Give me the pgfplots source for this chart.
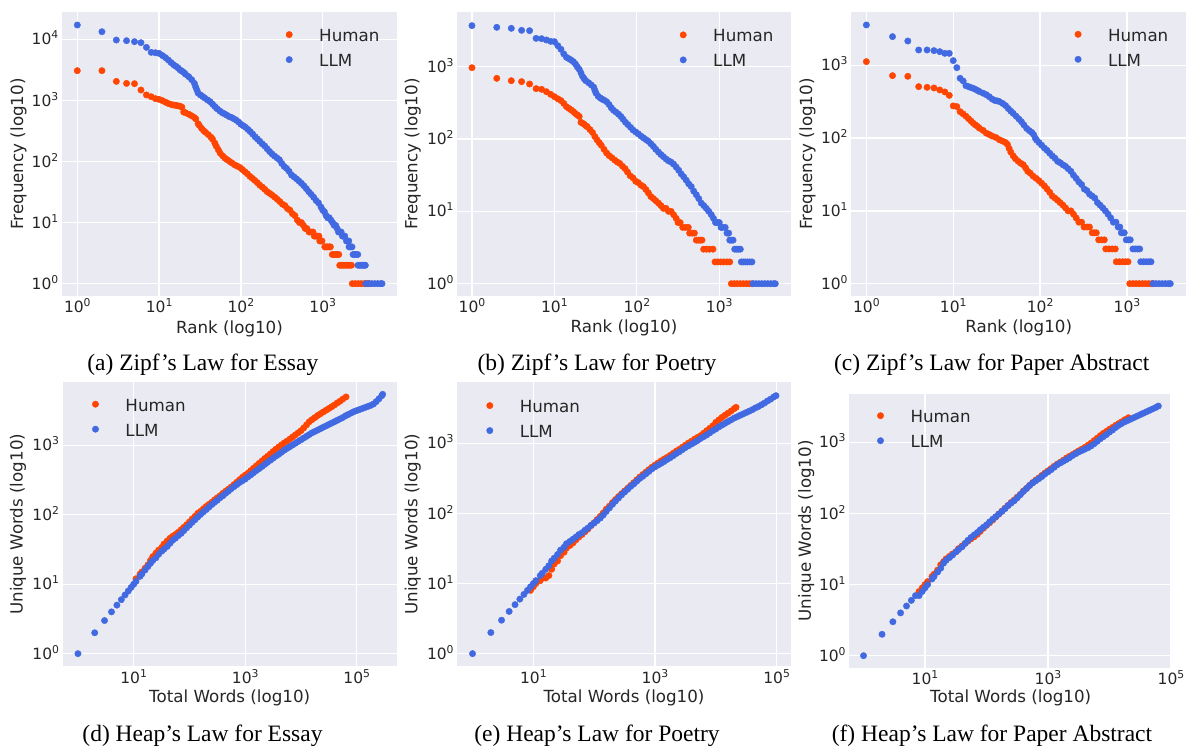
\documentclass[border=0pt]{standalone}
\usepackage{fontspec}
\setmainfont{Liberation Serif}
\newfontfamily\dejavu{DejaVu Sans}
\usepackage{pgfplots}
\pgfplotsset{compat=1.18}

\definecolor{human}{HTML}{FF4500}
\definecolor{llm}{HTML}{4169E1}
\definecolor{panelbg}{HTML}{EAEAF2}
\definecolor{ink}{HTML}{262626}

\newcommand\tickfont{\dejavu\fontsize{15.5}{18}\selectfont}
\newcommand\labelfont{\dejavu\fontsize{16.7}{20}\selectfont}
\newcommand\capfont{\fontsize{23.5}{28}\selectfont}
% power-of-ten tick label: 10 with a raised exponent
\newcommand\tp[1]{10\raisebox{6pt}{\fontsize{10.8}{12}\selectfont #1}}

\pgfplotsset{
  every axis/.append style={
    scale only axis,
    axis background/.style={fill=panelbg},
    axis line style={draw=none},
    tick style={draw=none},
    major tick length=0pt, minor tick length=0pt,
    grid=major,
    major grid style={white, line width=1.3pt},
    ticklabel style={font=\tickfont, text=ink, inner sep=0pt},
    xticklabel style={anchor=base, yshift=-17pt},
    yticklabel style={anchor=base east, xshift=-3.5pt, yshift=-5.6pt},
    label style={font=\labelfont, text=ink, inner sep=0pt},
    xlabel style={anchor=base},
    ylabel style={anchor=base},
    legend cell align=left,
    legend style={draw=none, fill=none, inner sep=0pt, outer sep=0pt,
      row sep=13pt, column sep=0pt, anchor=north west,
      nodes={inner sep=0pt, text height=12pt, text depth=0pt, font=\labelfont, text=ink}},
  },
  hum/.style={only marks, mark=*, mark size=3.2pt, color=human, mark options={draw=none}},
  lm/.style={only marks, mark=*, mark size=3.2pt, color=llm, mark options={draw=none}},
}
% legend entry: a single dot, then the label 30pt to its right
\newcommand\dotlegend{\pgfplotsset{legend image code/.code={%
  \draw[##1, mark size=3.2pt] plot coordinates {(0pt,1pt)};
  \path[draw=none, fill=none] (-3pt,-6pt) rectangle (30pt,6pt);}}}

\begin{document}
\begin{tikzpicture}
\useasboundingbox (0pt,0pt) rectangle (1194pt,747pt);
\fill[white] (0pt,0pt) rectangle (1194pt,747pt);
\dotlegend

% ---------------- (a) Zipf, Essay ----------------
\begin{loglogaxis}[at={(62pt,451pt)}, anchor=south west, width=335pt, height=284pt,
  xmin=0.650, xmax=8091, ymin=0.628, ymax=28050,
  xtick={1,10,100,1000}, xticklabels={\tp{0},\tp{1},\tp{2},\tp{3}},
  ytick={1,10,100,1000,10000}, yticklabels={\tp{0},\tp{1},\tp{2},\tp{3},\tp{4}},
  xlabel={Rank (log10)}, ylabel={Frequency (log10)},
  xlabel style={at={(axis description cs:0.5,-0.1303)}},
  ylabel style={at={(axis description cs:-0.1164,0.5)}},
  legend style={at={(axis description cs:0.6687,0.938)}}]
\addplot[hum] coordinates {
(1,3070)(2,3070)(3,2050)(4,1900)(5,1880)(6,1480)(7,1230)(8,1150)(9,1070)(10,1040)
(11,990)(12,935)(13,890)(14,860)(15,840)(16,830)(17,815)(18,805)(19,775)(20,645)
(21,630)(23,595)(25,560)(27,525)(28,500)(30,415)(31,390)(33,350)(35,320)(37,300)
(40,275)(43,250)(45,232)(48,200)(50,178)(53,155)(56,136)(60,123)(64,113)(68,107)
(73,100)(78,94)(84,88)(90,84)(97,80)(104,74)(112,68)(120,63)(129,57)(138,53)
(148,49)(159,45)(170,41)(183,38)(196,35)(210,32)(226,30)(242,28)(260,26)(279,24)
(300,22)(322,20)(345,19)(370,17)(397,16)(426,14)(457,13)(490,11)(520,10)(550,10)
(580,9)(610,8)(640,8)(681,7)(720,7)(760,7)(790,6)(830,6)(870,6)(900,6)
(920,5)(950,5)(980,5)(1060,4)(1100,4)(1150,4)(1200,4)(1240,4)
(1310,3)(1380,3)(1450,3)(1520,3)(1570,3)
(1614,2)(1700,2)(1800,2)(1900,2)(2000,2)(2120,2)(2250,2)
(2300,1)(2500,1)(2720,1)(2960,1)(3220,1)(3500,1)(3700,1)};
\addlegendentry{Human}
\addplot[lm] coordinates {
(1,17170)(2,13340)(3,9750)(4,9510)(5,9160)(6,8820)(7,7390)(8,6130)(9,6030)(10,5890)
(11,5430)(12,5010)(13,4570)(14,4170)(15,3850)(16,3630)(17,3430)(18,3160)(19,3020)(20,2880)
(21,2690)(23,2450)(25,2190)(27,1905)(28,1660)(29,1480)(30,1320)(32,1230)(34,1160)(36,1100)
(39,1020)(42,955)(45,870)(48,795)(51,733)(55,676)(59,631)(63,603)(67,575)(72,543)
(77,525)(82,501)(88,473)(94,442)(100,407)(107,385)(114,363)(122,335)(130,309)(139,282)
(149,254)(159,234)(170,214)(182,195)(195,180)(209,162)(224,146)(240,133)(257,123)(275,115)
(295,107)(316,93)(338,83)(362,77)(388,69)(416,60)(446,56)(478,52)(512,48)(549,44)
(588,40)(630,36)(675,32)(723,29)(775,26)(830,23)(889,21)(952,18)(1000,16)(1050,15)
(1100,13)(1150,12)(1200,12)(1260,11)(1320,10)(1380,9)(1440,9)(1500,8)(1560,7)(1620,7)
(1680,7)(1740,6)(1800,6)(1860,6)(1950,5)(2000,5)(2080,5)(2100,4)(2190,4)(2280,4)
(2350,3)(2450,3)(2560,3)(2680,3)(2700,2)(2830,2)(2960,2)(3100,2)(3240,2)(3320,2)
(3360,1)(3660,1)(3980,1)(4330,1)(4710,1)(5120,1)(5310,1)};
\addlegendentry{LLM}
\end{loglogaxis}

% ---------------- (b) Zipf, Poetry ----------------
\begin{loglogaxis}[at={(457.3pt,451pt)}, anchor=south west, width=333.4pt, height=284pt,
  xmin=0.664, xmax=7350, ymin=0.676, ymax=5700,
  xtick={1,10,100,1000}, xticklabels={\tp{0},\tp{1},\tp{2},\tp{3}},
  ytick={1,10,100,1000}, yticklabels={\tp{0},\tp{1},\tp{2},\tp{3}},
  xlabel={Rank (log10)}, ylabel={Frequency (log10)},
  xlabel style={at={(axis description cs:0.5,-0.1303)}},
  ylabel style={at={(axis description cs:-0.1194,0.5)}},
  legend style={at={(axis description cs:0.668,0.937)}}]
\addplot[hum] coordinates {
(1,968)(2,690)(3,640)(4,621)(5,576)(6,497)(7,486)(8,451)(9,415)(10,385)
(11,360)(12,340)(13,310)(14,280)(15,265)(16,252)(17,239)(18,225)(19,215)(20,205)
(21,170)(22,165)(23,160)(24,153)(25,148)(27,135)(29,123)(31,108)(33,97)(35,89)
(37,82)(40,72)(43,64)(46,59)(50,55)(54,51)(58,48)(62,46)(67,42)(72,39)
(77,35)(83,31)(90,29)(97,26)(104,25)(112,23)(120,22)(129,20)(138,18)(148,16)
(159,15)(170,14)(183,13)(196,12)(210,11)(226,11)(242,10)(260,10)(279,9)(300,8)
(316,7)(335,7)(360,6)(390,6)(421,6)(437,5)(468,5)(499,5)(526,4)(556,4)(586,4)(617,4)
(646,3)(700,3)(760,3)(839,3)(887,2)(960,2)(1040,2)(1130,2)(1230,2)(1337,2)
(1400,1)(1520,1)(1650,1)(1800,1)(1960,1)(2130,1)(2320,1)(2500,1)};
\addlegendentry{Human}
\addplot[lm] coordinates {
(1,3690)(2,3500)(3,3390)(4,3180)(5,3145)(6,2464)(7,2437)(8,2338)(9,2240)(10,2218)
(11,1950)(12,1740)(13,1500)(14,1346)(15,1290)(16,1230)(17,1172)(18,1090)(19,990)(20,920)
(21,820)(22,730)(23,680)(24,640)(26,600)(28,560)(30,520)(31,470)(32,430)(34,390)
(36,370)(38,355)(40,345)(43,328)(46,300)(49,270)(52,250)(56,235)(60,220)(64,205)
(68,188)(73,170)(78,158)(84,145)(90,133)(97,125)(104,118)(112,110)(120,104)(129,98)
(138,93)(148,86)(159,79)(170,72)(183,66)(196,61)(210,57)(226,53)(242,50)(260,48)
(279,45)(300,41)(322,37)(345,33)(370,30)(397,27)(426,24)(457,22)(490,19)(526,17)
(564,15)(605,13)(649,12)(696,11)(746,10)(800,9)(850,8)(900,7)(950,7)(1000,7)
(1050,6)(1100,6)(1180,6)(1240,5)(1300,5)(1340,4)(1400,4)(1470,4)
(1540,3)(1620,3)(1710,3)(1800,3)(1850,2)(1960,2)(2080,2)(2200,2)(2340,2)(2490,2)
(2560,1)(2780,1)(3020,1)(3280,1)(3560,1)(3870,1)(4200,1)(4560,1)(4780,1)};
\addlegendentry{LLM}
\end{loglogaxis}

% ---------------- (c) Zipf, Paper Abstract ----------------
\begin{loglogaxis}[at={(851.3pt,451pt)}, anchor=south west, width=334.7pt, height=284pt,
  xmin=0.671, xmax=4775, ymin=0.677, ymax=5410,
  xtick={1,10,100,1000}, xticklabels={\tp{0},\tp{1},\tp{2},\tp{3}},
  ytick={1,10,100,1000}, yticklabels={\tp{0},\tp{1},\tp{2},\tp{3}},
  xlabel={Rank (log10)}, ylabel={Frequency (log10)},
  xlabel style={at={(axis description cs:0.5,-0.1303)}},
  ylabel style={at={(axis description cs:-0.1174,0.5)}},
  legend style={at={(axis description cs:0.668,0.939)}}]
\addplot[hum] coordinates {
(1,1125)(2,722)(3,707)(4,510)(5,499)(6,489)(7,459)(8,431)(9,387)(10,277)(11,271)
(12,231)(13,215)(14,200)(15,185)(16,172)(17,160)(18,152)(19,145)(20,137)(22,128)
(24,117)(26,112)(28,107)(31,102)(34,95)(37,91)(40,87)(42,82)(44,72)(46,64)
(49,57)(52,52)(56,48)(60,45)(64,43)(68,39)(72,35)(77,33)(83,30)(90,28)
(97,26)(104,24)(112,22)(120,20)(129,18)(138,16)(148,15)(159,14)(170,13)(183,12)
(196,11)(210,10)(226,10)(242,9)(260,8)(279,7)(300,7)(320,6)(345,6)(370,6)
(398,5)(420,5)(443,5)(472,4)(510,4)(548,4)(569,3)(620,3)(675,3)(733,3)
(753,2)(820,2)(890,2)(960,2)(1027,2)
(1076,1)(1170,1)(1270,1)(1380,1)(1500,1)(1630,1)(1770,1)(1920,1)(2000,1)};
\addlegendentry{Human}
\addplot[lm] coordinates {
(1,3590)(2,2480)(3,2160)(4,1626)(5,1626)(6,1592)(7,1542)(8,1463)(9,1463)(10,1161)
(11,929)(12,664)(13,610)(14,525)(15,510)(16,495)(17,483)(18,468)(19,452)(20,437)
(22,415)(24,395)(26,370)(28,345)(30,330)(32,325)(34,318)(37,300)(40,280)(43,255)
(46,235)(49,219)(53,200)(57,183)(61,168)(65,152)(70,136)(75,127)(80,120)(84,112)
(88,100)(91,94)(97,87)(104,80)(112,73)(120,68)(129,62)(138,57)(148,53)(159,48)
(170,46)(183,43)(196,41)(210,38)(226,35)(242,31)(260,28)(279,25)(300,23)(322,20)
(345,19)(370,17)(397,16)(426,15)(457,13)(490,12)(526,11)(564,10)(605,9)(649,8)
(696,7)(746,7)(790,6)(826,6)(860,5)(895,5)(930,5)(980,4)(1035,4)(1090,4)
(1170,3)(1240,3)(1320,3)(1400,3)(1440,2)(1550,2)(1660,2)(1780,2)(1890,2)
(1990,1)(2160,1)(2340,1)(2540,1)(2760,1)(2990,1)(3150,1)};
\addlegendentry{LLM}
\end{loglogaxis}

% ---------------- (d) Heap, Essay ----------------
\begin{loglogaxis}[at={(62.7pt,80.7pt)}, anchor=south west, width=334pt, height=284pt,
  xmin=0.533, xmax=522000, ymin=0.658, ymax=8090,
  xtick={10,1000,100000}, xticklabels={\tp{1},\tp{3},\tp{5}},
  ytick={1,10,100,1000}, yticklabels={\tp{0},\tp{1},\tp{2},\tp{3}},
  xlabel={Total Words (log10)}, ylabel={Unique Words (log10)},
  xlabel style={at={(axis description cs:0.5,-0.1268)}},
  ylabel style={at={(axis description cs:-0.1198,0.5)}},
  legend style={at={(axis description cs:0.0886,0.9405)}}]
\addplot[hum] coordinates {
(11,12)(13,14)(14,15)(16,17)(18,19)(20,22)(22,25)(25,28)(28,31)(32,34)
(35,38)(40,42)(45,46)(50,49)(56,52)(63,56)(71,61)(79,66)(89,72)(100,79)
(112,87)(126,95)(141,105)(158,112)(178,122)(200,132)(224,141)(251,151)(282,164)(316,176)
(355,188)(398,204)(447,219)(501,234)(562,251)(631,272)(708,295)(794,320)(891,347)(1000,372)
(1120,398)(1260,432)(1410,468)(1580,507)(1780,550)(2000,596)(2240,646)(2510,692)(2820,750)(3160,813)
(3550,881)(3980,944)(4470,1012)(5010,1084)(5620,1148)(6310,1230)(7080,1318)(7940,1413)(8910,1514)(10000,1622)
(11200,1778)(12600,1972)(14100,2188)(15800,2344)(17800,2512)(20000,2692)(22400,2851)(25100,3020)(28200,3199)(31600,3388)
(35500,3589)(39800,3802)(44700,4074)(50100,4315)(56200,4624)(64400,4977)};
\addlegendentry{Human}
\addplot[lm] coordinates {
(1,1)(2,2)(3,3)(4,4)(5,5)(6,6)(7,7)(8,8)(9,9)(10,10)
(11,11)(13,13)(14,14)(16,16)(18,18)(20,20)(22,22)(25,24)(28,27)(32,30)
(35,32)(40,35)(45,39)(50,43)(56,46)(63,50)(71,54)(79,59)(89,65)(100,71)
(112,78)(126,85)(141,93)(158,101)(178,110)(200,119)(224,129)(251,140)(282,151)(316,162)
(355,176)(398,188)(447,204)(501,219)(562,237)(631,254)(708,272)(794,292)(891,309)(1000,327)
(1120,351)(1260,376)(1410,403)(1580,432)(1780,462)(2000,495)(2240,531)(2510,569)(2820,610)(3160,653)
(3550,700)(3980,741)(4470,794)(5010,851)(5620,902)(6310,955)(7080,1012)(7940,1072)(8910,1135)(10000,1202)
(11200,1274)(12600,1349)(14100,1429)(15800,1514)(17800,1585)(20000,1660)(22400,1738)(25100,1820)(28200,1905)(31600,1995)
(35500,2089)(39800,2188)(44700,2291)(50100,2399)(56200,2512)(63100,2661)(70800,2786)(79400,2917)(89100,3055)(100000,3162)
(112000,3273)(126000,3388)(141000,3508)(158000,3631)(178000,3758)(200000,3936)(224000,4266)(251000,4677)(282000,5188)(292000,5430)};
\addlegendentry{LLM}
\end{loglogaxis}

% ---------------- (e) Heap, Poetry ----------------
\begin{loglogaxis}[at={(457.3pt,80.7pt)}, anchor=south west, width=333.4pt, height=284pt,
  xmin=0.562, xmax=170200, ymin=0.66, ymax=7430,
  xtick={10,1000,100000}, xticklabels={\tp{1},\tp{3},\tp{5}},
  ytick={1,10,100,1000}, yticklabels={\tp{0},\tp{1},\tp{2},\tp{3}},
  xlabel={Total Words (log10)}, ylabel={Unique Words (log10)},
  xlabel style={at={(axis description cs:0.5,-0.1275)}},
  ylabel style={at={(axis description cs:-0.1194,0.5)}},
  legend style={at={(axis description cs:0.0879,0.9356)}}]
\addplot[hum] coordinates {
(9,8)(10,9)(11,10)(13,11)(14,12)(16,12)(18,13)(20,16)(22,19)(25,21)
(28,25)(32,28)(35,32)(40,35)(45,38)(50,42)(56,46)(63,50)(71,55)(79,60)
(89,67)(100,74)(112,82)(126,91)(141,102)(158,115)(178,127)(200,143)(224,158)(251,174)
(282,191)(316,209)(355,229)(398,251)(447,275)(501,302)(562,331)(631,359)(708,389)(794,422)
(891,457)(1000,490)(1120,525)(1260,562)(1410,596)(1580,631)(1780,676)(2000,724)(2240,776)(2510,822)
(2820,881)(3160,944)(3550,1012)(3980,1072)(4470,1148)(5010,1216)(5620,1288)(6310,1396)(7080,1514)(7940,1641)
(8910,1778)(10000,1995)(11200,2163)(12600,2344)(14100,2512)(15800,2692)(17800,2884)(20000,3126)(21500,3266)};
\addlegendentry{Human}
\addplot[lm] coordinates {
(1,1)(2,2)(3,3)(4,4)(5,5)(6,6)(7,7)(8,8)(9,9)(10,10)
(11,11)(13,13)(14,14)(16,16)(18,18)(20,21)(22,23)(25,26)(28,30)(32,33)
(35,37)(40,40)(45,43)(50,46)(56,50)(63,53)(71,58)(79,62)(89,68)(100,73)
(112,79)(126,86)(141,95)(158,107)(178,120)(200,135)(224,150)(251,166)(282,184)(316,202)
(355,221)(398,243)(447,263)(501,288)(562,316)(631,339)(708,367)(794,398)(891,432)(1000,462)
(1120,490)(1260,519)(1410,550)(1580,589)(1780,624)(2000,668)(2240,716)(2510,759)(2820,813)(3160,871)
(3550,923)(3980,977)(4470,1035)(5010,1096)(5620,1175)(6310,1245)(7080,1318)(7940,1413)(8910,1514)(10000,1603)
(11200,1718)(12600,1820)(14100,1928)(15800,2042)(17800,2163)(20000,2291)(22400,2399)(25100,2512)(28200,2630)(31600,2754)
(35500,2884)(39800,3020)(44700,3199)(50100,3350)(56200,3548)(63100,3758)(70800,4027)(79400,4266)(89100,4571)(97500,4786)};
\addlegendentry{LLM}
\end{loglogaxis}

% ---------------- (f) Heap, Paper Abstract ----------------
\begin{loglogaxis}[at={(849.3pt,79.3pt)}, anchor=south west, width=322.7pt, height=273.7pt,
  xmin=0.587, xmax=103800, ymin=0.678, ymax=4790,
  xtick={10,1000,100000}, xticklabels={\tp{1},\tp{3},\tp{5}},
  ytick={1,10,100,1000}, yticklabels={\tp{0},\tp{1},\tp{2},\tp{3}},
  xlabel={Total Words (log10)}, ylabel={Unique Words (log10)},
  xlabel style={at={(axis description cs:0.5,-0.1271)}},
  ylabel style={at={(axis description cs:-0.1193,0.5)}},
  legend style={at={(axis description cs:0.0868,0.939)}}]
\addplot[hum] coordinates {
(8,8)(9,9)(10,10)(11,11)(13,13)(14,14)(16,16)(18,19)(20,21)(22,23)
(25,25)(28,27)(32,29)(35,32)(40,35)(45,38)(50,41)(56,44)(63,47)(71,51)
(79,56)(89,62)(100,68)(112,74)(126,81)(141,89)(158,98)(178,108)(200,119)(224,130)
(251,143)(282,155)(316,170)(355,186)(398,207)(447,226)(501,248)(562,272)(631,295)(708,316)
(794,343)(891,372)(1000,398)(1120,427)(1260,462)(1410,495)(1580,525)(1780,562)(2000,603)(2240,638)
(2510,676)(2820,716)(3160,759)(3550,804)(3980,851)(4470,912)(5010,977)(5620,1059)(6310,1148)(7080,1245)
(7940,1340)(8910,1429)(10000,1531)(11200,1622)(12600,1738)(14100,1841)(15800,1950)(17800,2089)(20250,2223)};
\addlegendentry{Human}
\addplot[lm] coordinates {
(1,1)(2,2)(3,3)(4,4)(5,5)(6,6)(7,7)(8,7)(9,8)(10,9)
(11,10)(13,12)(14,13)(16,15)(18,17)(20,20)(22,22)(25,24)(28,26)(32,29)
(35,31)(40,34)(45,38)(50,42)(56,46)(63,50)(71,54)(79,59)(89,64)(100,69)
(112,76)(126,83)(141,90)(158,98)(178,107)(200,117)(224,129)(251,140)(282,151)(316,166)
(355,184)(398,204)(447,224)(501,248)(562,269)(631,288)(708,309)(794,331)(891,359)(1000,385)
(1120,412)(1260,447)(1410,484)(1580,513)(1780,543)(2000,575)(2240,610)(2510,653)(2820,692)(3160,733)
(3550,767)(3980,804)(4470,841)(5010,891)(5620,955)(6310,1035)(7080,1122)(7940,1202)(8910,1288)(10000,1396)
(11200,1496)(12600,1622)(14100,1738)(15800,1841)(17800,1950)(20000,2042)(22400,2138)(25100,2239)(28200,2344)(31600,2455)
(35500,2570)(39800,2692)(44700,2818)(50100,2951)(56200,3090)(62200,3243)};
\addlegendentry{LLM}
\end{loglogaxis}

% ---------------- sub-figure captions ----------------
\node[anchor=base, font=\capfont] at (202.8pt,376pt) {(a) Zipf’s Law for Essay};
\node[anchor=base, font=\capfont] at (597pt,376pt) {(b) Zipf’s Law for Poetry};
\node[anchor=base, font=\capfont] at (991.7pt,376pt) {(c) Zipf’s Law for Paper Abstract};
\node[anchor=base, font=\capfont] at (202.5pt,5.5pt) {(d) Heap’s Law for Essay};
\node[anchor=base, font=\capfont] at (597pt,5.5pt) {(e) Heap’s Law for Poetry};
\node[anchor=base, font=\capfont] at (992pt,5.5pt) {(f) Heap’s Law for Paper Abstract};
\end{tikzpicture}
\end{document}
